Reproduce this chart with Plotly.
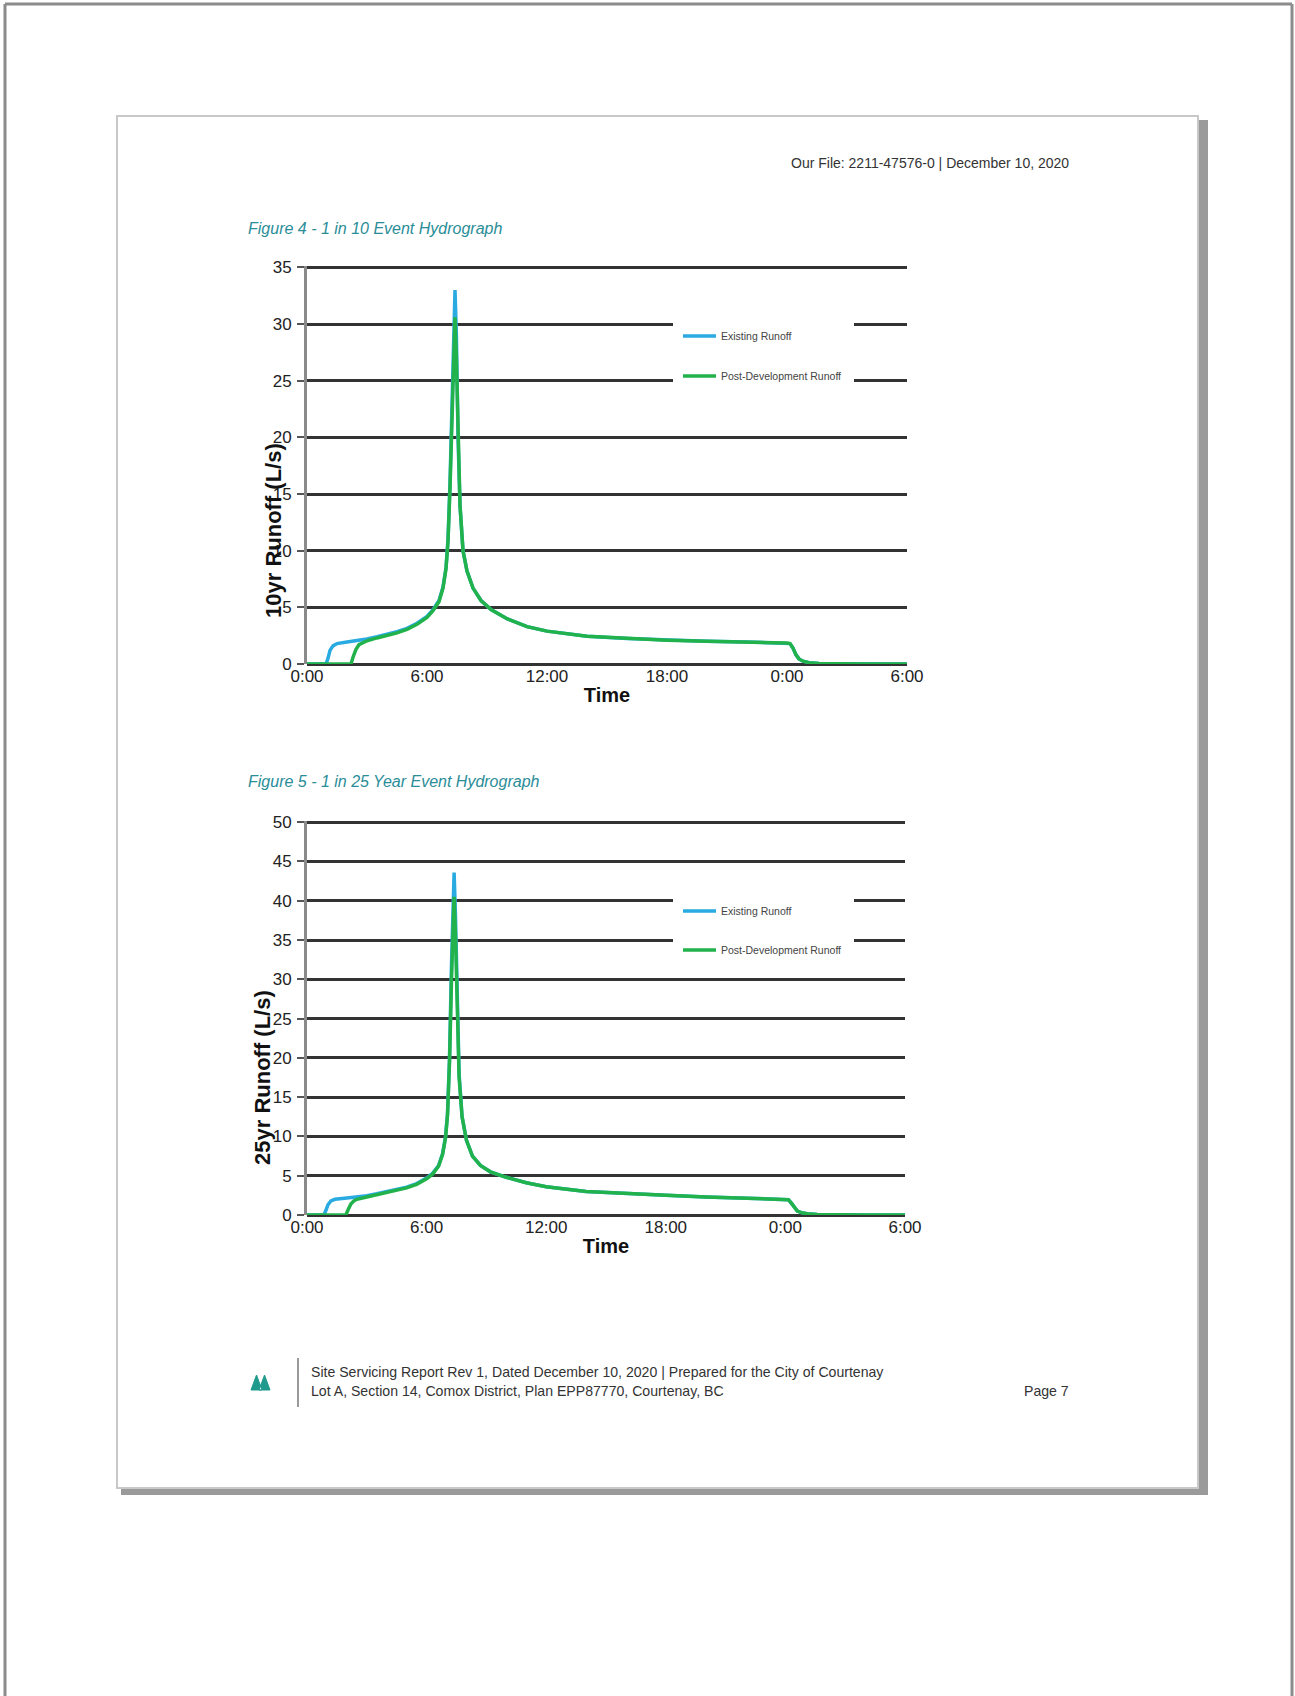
import plotly.graph_objects as go

W, H = 1295, 1696

# ---------------- data ----------------
tick_hours = [0, 6, 12, 18, 24, 30]
tick_labels = ["0:00", "6:00", "12:00", "18:00", "0:00", "6:00"]

# Figure 4 - 1 in 10 year event
t10_existing = [0, 0.95, 1.05, 1.15, 1.3, 1.5, 2.0, 2.5, 3.0, 3.5, 4.0, 4.5, 5.0, 5.5, 6.0, 6.3, 6.6,
                6.8, 6.95, 7.05, 7.15, 7.25, 7.33, 7.4, 7.47, 7.55, 7.65, 7.8, 8.0, 8.3, 8.7, 9.2, 10, 11,
                12, 14, 16, 18, 20, 22, 24, 24.15, 24.3, 24.45, 24.6, 24.8, 25.1, 25.6, 26.5, 28, 30]
q10_existing = [0, 0, 0.5, 1.2, 1.6, 1.8, 1.95, 2.05, 2.2, 2.4, 2.6, 2.85, 3.15, 3.6, 4.2, 4.8, 5.6,
                6.8, 8.5, 11, 16, 24, 30, 33, 29, 20, 14, 10, 8.2, 6.7, 5.6, 4.8, 4.0, 3.3,
                2.9, 2.45, 2.25, 2.1, 2.0, 1.95, 1.85, 1.8, 1.4, 0.8, 0.45, 0.25, 0.12, 0.05, 0.02, 0, 0]
t10_post = [0, 2.2, 2.3, 2.45, 2.6, 2.8, 3.0, 3.5, 4.0, 4.5, 5.0, 5.5, 6.0, 6.3, 6.6,
            6.8, 6.95, 7.05, 7.15, 7.25, 7.33, 7.4, 7.47, 7.55, 7.65, 7.8, 8.0, 8.3, 8.7, 9.2, 10, 11,
            12, 14, 16, 18, 20, 22, 24, 24.15, 24.3, 24.45, 24.6, 24.8, 25.1, 25.6, 26.5, 28, 30]
q10_post = [0, 0, 0.6, 1.3, 1.7, 1.9, 2.05, 2.3, 2.5, 2.75, 3.05, 3.5, 4.1, 4.7, 5.5,
            6.7, 8.4, 10.8, 15.5, 22.5, 28, 30.6, 27, 19.5, 14, 10, 8.2, 6.7, 5.6, 4.8, 4.0, 3.3,
            2.9, 2.45, 2.25, 2.1, 2.0, 1.95, 1.85, 1.8, 1.4, 0.8, 0.45, 0.25, 0.12, 0.05, 0.02, 0, 0]

# Figure 5 - 1 in 25 year event
t25_existing = [0, 0.85, 0.95, 1.05, 1.2, 1.4, 2.0, 2.5, 3.0, 3.5, 4.0, 4.5, 5.0, 5.5, 6.0, 6.3, 6.6,
                6.8, 6.95, 7.05, 7.15, 7.25, 7.32, 7.38, 7.45, 7.53, 7.63, 7.78, 8.0, 8.3, 8.7, 9.2, 10, 11,
                12, 14, 16, 18, 20, 22, 24, 24.15, 24.3, 24.45, 24.6, 24.8, 25.1, 25.6, 26.5, 28, 30]
q25_existing = [0, 0, 0.6, 1.3, 1.8, 2.0, 2.15, 2.25, 2.45, 2.7, 2.95, 3.2, 3.55, 4.0, 4.7, 5.3, 6.3,
                7.8, 10, 13, 20, 32, 40, 43.6, 38, 27, 18, 12.5, 9.5, 7.5, 6.3, 5.5, 4.8, 4.1,
                3.6, 3.0, 2.7, 2.5, 2.3, 2.15, 2.05, 1.95, 1.5, 0.9, 0.5, 0.3, 0.15, 0.06, 0.02, 0, 0]
t25_post = [0, 1.95, 2.05, 2.2, 2.35, 2.5, 3.0, 3.5, 4.0, 4.5, 5.0, 5.5, 6.0, 6.3, 6.6,
            6.8, 6.95, 7.05, 7.15, 7.25, 7.32, 7.38, 7.45, 7.53, 7.63, 7.78, 8.0, 8.3, 8.7, 9.2, 10, 11,
            12, 14, 16, 18, 20, 22, 24, 24.15, 24.3, 24.45, 24.6, 24.8, 25.1, 25.6, 26.5, 28, 30]
q25_post = [0, 0, 0.6, 1.4, 1.8, 2.0, 2.3, 2.6, 2.85, 3.1, 3.45, 3.9, 4.6, 5.2, 6.2,
            7.7, 9.8, 12.7, 19.5, 30, 37.5, 40.5, 35.5, 26, 17.5, 12.5, 9.5, 7.5, 6.3, 5.5, 4.8, 4.1,
            3.6, 3.0, 2.7, 2.5, 2.3, 2.15, 2.05, 1.95, 1.5, 0.9, 0.5, 0.3, 0.15, 0.06, 0.02, 0, 0]

series_names = ["Existing Runoff", "Post-Development Runoff"]
y_titles = ["10yr Runoff (L/s)", "25yr Runoff (L/s)"]
captions = ["Figure 4 - 1 in 10 Event Hydrograph", "Figure 5 - 1 in 25 Year Event Hydrograph"]
header_text = "Our File: 2211-47576-0 | December 10, 2020"
footer_line1 = "Site Servicing Report Rev 1, Dated December 10, 2020 | Prepared for the City of Courtenay"
footer_line2 = "Lot A, Section 14, Comox District, Plan EPP87770, Courtenay, BC"
page_label = "Page 7"

BLUE = "#29abe2"
GREEN = "#22b24c"
TEAL = "#2a8d98"
FONT = "Liberation Sans, Arial, sans-serif"


def px(x):
    return x / W


def py(y):
    return 1 - y / H


fig = go.Figure()

fig.add_trace(go.Scatter(x=t10_existing, y=q10_existing, mode="lines", name=series_names[0],
                         line=dict(color=BLUE, width=3.5), xaxis="x", yaxis="y", legend="legend"))
fig.add_trace(go.Scatter(x=t10_post, y=q10_post, mode="lines", name=series_names[1],
                         line=dict(color=GREEN, width=3.5), xaxis="x", yaxis="y", legend="legend2"))
fig.add_trace(go.Scatter(x=t25_existing, y=q25_existing, mode="lines", name=series_names[0],
                         line=dict(color=BLUE, width=3.5), xaxis="x2", yaxis="y2", legend="legend3"))
fig.add_trace(go.Scatter(x=t25_post, y=q25_post, mode="lines", name=series_names[1],
                         line=dict(color=GREEN, width=3.5), xaxis="x2", yaxis="y2", legend="legend4"))

tickfont = dict(family=FONT, size=17, color="#222")

xcommon = dict(range=[0, 30], tickvals=tick_hours, ticktext=tick_labels, showgrid=False,
               zeroline=False, showline=False, ticks="", tickfont=tickfont, automargin=False,
               title=dict(text="<b>Time</b>", font=dict(family=FONT, size=20, color="#111"), standoff=2))
ycommon = dict(dtick=5, showgrid=True, gridcolor="#333333", gridwidth=2.5, zeroline=True,
               zerolinecolor="#333333", zerolinewidth=2.5, showline=True, linecolor="#8a8a8a",
               linewidth=3, ticks="outside", ticklen=7, tickcolor="#555", tickwidth=2,
               tickfont=tickfont, ticklabelstandoff=2, automargin=False)

legend_common = dict(bgcolor="rgba(0,0,0,0)", borderwidth=0, xanchor="left", yanchor="middle",
                     font=dict(family=FONT, size=10.5, color="#444"), itemwidth=33)

fig.update_layout(
    width=W, height=H,
    margin=dict(l=0, r=0, t=0, b=0, pad=0, autoexpand=False),
    paper_bgcolor="white", plot_bgcolor="rgba(0,0,0,0)",
    showlegend=True,
    xaxis=dict(domain=[px(307), px(907)], anchor="y", **xcommon),
    yaxis=dict(domain=[py(664), py(266)], anchor="x", range=[0, 35.12], **ycommon),
    xaxis2=dict(domain=[px(307), px(905)], anchor="y2", **xcommon),
    yaxis2=dict(domain=[py(1215), py(821)], anchor="x2", range=[0, 50.15], **ycommon),
    legend=dict(x=px(678), y=py(336), **legend_common),
    legend2=dict(x=px(678), y=py(376), **legend_common),
    legend3=dict(x=px(678), y=py(911), **legend_common),
    legend4=dict(x=px(678), y=py(950), **legend_common),
)

shapes = []
# outer frame
shapes.append(dict(type="line", xref="paper", yref="paper", x0=px(5), x1=px(5), y0=py(4), y1=0,
                   line=dict(color="#8c8c8c", width=3)))
shapes.append(dict(type="line", xref="paper", yref="paper", x0=px(5), x1=px(1292), y0=py(4), y1=py(4),
                   line=dict(color="#8c8c8c", width=3)))
shapes.append(dict(type="line", xref="paper", yref="paper", x0=px(1292), x1=px(1292), y0=py(4), y1=0,
                   line=dict(color="#8c8c8c", width=3)))
# page shadow
shapes.append(dict(type="rect", xref="paper", yref="paper", x0=px(1198), x1=px(1208), y0=py(1495), y1=py(120),
                   fillcolor="#9a9a9a", line=dict(width=0), layer="below"))
shapes.append(dict(type="rect", xref="paper", yref="paper", x0=px(121), x1=px(1208), y0=py(1495), y1=py(1488),
                   fillcolor="#9a9a9a", line=dict(width=0), layer="below"))
# page border
shapes.append(dict(type="rect", xref="paper", yref="paper", x0=px(117), x1=px(1198), y0=py(1488), y1=py(116),
                   fillcolor="white", line=dict(color="#c8c8c8", width=2), layer="below"))
# legend boxes hiding gridlines
shapes.append(dict(type="rect", xref="paper", yref="paper", x0=px(673), x1=px(854), y0=py(392), y1=py(316),
                   fillcolor="white", line=dict(width=0), layer="above"))
shapes.append(dict(type="rect", xref="paper", yref="paper", x0=px(673), x1=px(854), y0=py(958), y1=py(892),
                   fillcolor="white", line=dict(width=0), layer="above"))
# footer separator
shapes.append(dict(type="line", xref="paper", yref="paper", x0=px(298), x1=px(298), y0=py(1407), y1=py(1358),
                   line=dict(color="#9a9a9a", width=2)))
# logo
logo = (f"M {px(251)},{py(1390)} L {px(256.5)},{py(1375)} L {px(262)},{py(1390)} Z "
        f"M {px(259)},{py(1390)} L {px(264.5)},{py(1375)} L {px(270)},{py(1390)} Z")
shapes.append(dict(type="path", xref="paper", yref="paper", path=logo, fillcolor="#1f9a8c",
                   line=dict(color="#1f9a8c", width=1)))
fig.update_layout(shapes=shapes)

ann = []
ann.append(dict(text=header_text, x=px(1071), y=py(163), xref="paper", yref="paper", showarrow=False,
                xanchor="right", yanchor="middle", font=dict(family=FONT, size=14, color="#333")))
ann.append(dict(text="<i>" + captions[0] + "</i>", x=px(246), y=py(229), xref="paper", yref="paper",
                showarrow=False, xanchor="left", yanchor="middle", font=dict(family=FONT, size=16, color=TEAL)))
ann.append(dict(text="<i>" + captions[1] + "</i>", x=px(246), y=py(781), xref="paper", yref="paper",
                showarrow=False, xanchor="left", yanchor="middle", font=dict(family=FONT, size=16, color=TEAL)))
ann.append(dict(text="<b>" + y_titles[0] + "</b>", x=px(273), y=py(531), xref="paper", yref="paper",
                showarrow=False, textangle=-90, xanchor="center", yanchor="middle",
                font=dict(family=FONT, size=22, color="#111")))
ann.append(dict(text="<b>" + y_titles[1] + "</b>", x=px(262), y=py(1078), xref="paper", yref="paper",
                showarrow=False, textangle=-90, xanchor="center", yanchor="middle",
                font=dict(family=FONT, size=22, color="#111")))
ann.append(dict(text=footer_line1, x=px(309), y=py(1372), xref="paper", yref="paper", showarrow=False,
                xanchor="left", yanchor="middle", font=dict(family=FONT, size=14.1, color="#333")))
ann.append(dict(text=footer_line2, x=px(309), y=py(1391), xref="paper", yref="paper", showarrow=False,
                xanchor="left", yanchor="middle", font=dict(family=FONT, size=14.1, color="#333")))
ann.append(dict(text=page_label, x=px(1071), y=py(1391), xref="paper", yref="paper", showarrow=False,
                xanchor="right", yanchor="middle", font=dict(family=FONT, size=14.1, color="#333")))
fig.update_layout(annotations=ann)

# remove the browser's default 8px body margin so the page lines up with the window
fig.write_html("out.html", config={"displayModeBar": False},
               post_script="document.body.style.margin='0px';")
